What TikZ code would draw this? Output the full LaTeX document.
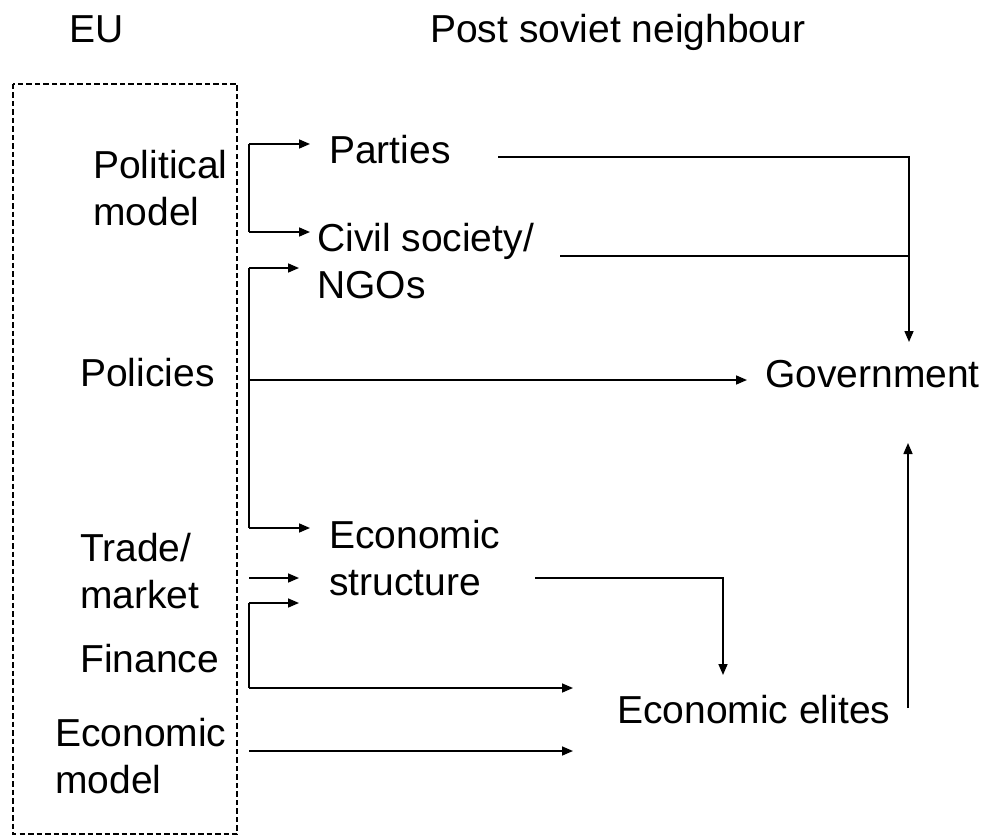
\documentclass[tikz,border=0pt]{standalone}
\usepackage{fontspec}
\setmainfont{Liberation Sans}
\usetikzlibrary{arrows.meta}
\begin{document}
\begin{tikzpicture}[x=1pt,y=-1pt,
  lbl/.style={anchor=base west, inner sep=0pt, align=left, font=\fontsize{39}{47}\selectfont},
  arr/.style={-{Triangle[length=11pt,width=9pt]}, line width=1.6pt},
  ln/.style={line width=1.6pt},
  eubox/.style={draw, dash pattern=on 5.5pt off 3pt, line width=1.2pt}]
\useasboundingbox (0,0) rectangle (987,837);
% headings
\node[lbl] (eu) at (69,43) {EU};
\node[lbl] (psn) at (430,43) {Post soviet neighbour};
% EU box
\draw[eubox] (13,84) rectangle (237,834);
% EU side labels (base anchor = last line's baseline)
\node[lbl] (political) at (93,225) {Political\\model};
\node[lbl] (policies) at (80,386) {Policies};
\node[lbl] (trade) at (80,608) {Trade/\\market};
\node[lbl] (finance) at (80,672) {Finance};
\node[lbl] (econmodel) at (55,793) {Economic\\model};
% neighbour side labels
\node[lbl] (parties) at (329,164) {Parties};
\node[lbl] (civil) at (317,298) {Civil society/\\NGOs};
\node[lbl] (structure) at (329,595) {Economic\\structure};
\node[lbl] (government) at (765,387) {Government};
\node[lbl] (elites) at (617,723) {Economic elites};
% coordinates
\coordinate (pmA) at (249,144);
\coordinate (pmB) at (249,232);
\coordinate (toParties) at (310,144);
\coordinate (toCivil) at (310,232);
\coordinate (poA) at (249,268);
\coordinate (poB) at (249,528);
\coordinate (poC) at (249,380);
\coordinate (toNGOs) at (299,268);
\coordinate (toStruct) at (310,528);
\coordinate (toGov) at (747,380);
\coordinate (trA) at (249,578);
\coordinate (toStructB) at (299,578);
\coordinate (fiA) at (249,603);
\coordinate (fiB) at (249,688);
\coordinate (toStructC) at (299,603);
\coordinate (toElitesA) at (573,688);
\coordinate (emA) at (249,751);
\coordinate (toElitesB) at (573,751);
\coordinate (partiesOut) at (498,157);
\coordinate (civilOut) at (560,256);
\coordinate (join) at (909,256);
\coordinate (govTop) at (909,342);
\coordinate (structOut) at (535,578);
\coordinate (elitesTop) at (723,675);
\coordinate (elitesOut) at (908,708);
\coordinate (govBottom) at (908,443);
% political model bracket
\draw[ln] (pmA) -- (pmB);
\draw[arr] (pmA) -- (toParties);
\draw[arr] (pmB) -- (toCivil);
% policies bracket
\draw[ln] (poA) -- (poB);
\draw[arr] (poA) -- (toNGOs);
\draw[arr] (poB) -- (toStruct);
\draw[arr] (poC) -- (toGov);
% trade
\draw[arr] (trA) -- (toStructB);
% finance bracket
\draw[ln] (fiA) -- (fiB);
\draw[arr] (fiA) -- (toStructC);
\draw[arr] (fiB) -- (toElitesA);
% economic model
\draw[arr] (emA) -- (toElitesB);
% to government
\draw[arr] (partiesOut) -| (govTop);
\draw[ln] (civilOut) -- (join);
% structure to elites
\draw[arr] (structOut) -| (elitesTop);
% elites to government
\draw[arr] (elitesOut) -- (govBottom);
\end{tikzpicture}
\end{document}
